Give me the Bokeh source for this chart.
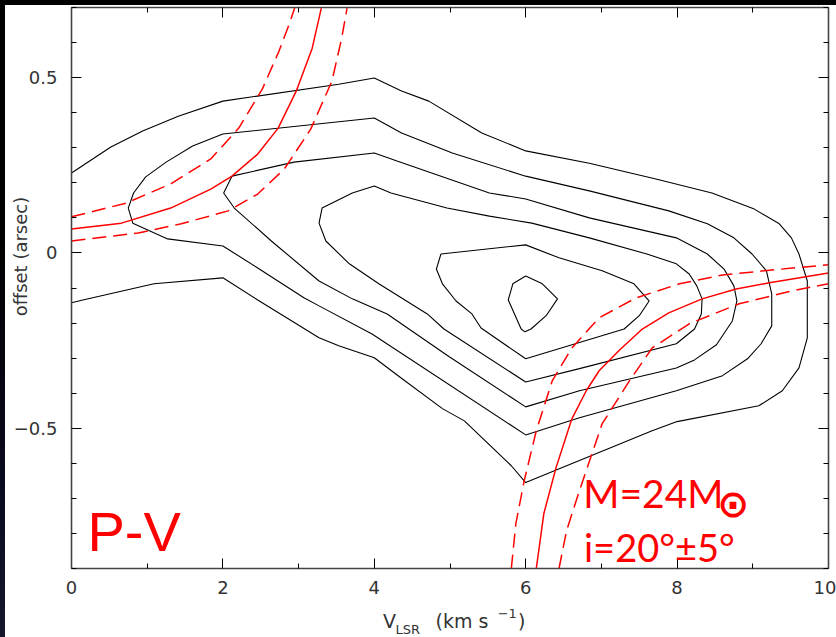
import math
from bokeh.plotting import figure
from bokeh.models import Range1d, LinearAxis, FixedTicker, Label
from bokeh.layouts import column
from bokeh.embed import file_html
from bokeh.resources import INLINE

# ---- axis ticks ----
x_major = [0, 2, 4, 6, 8, 10]
x_minor = [1, 3, 5, 7, 9]
y_major = [-0.5, 0, 0.5]
y_minor = [-0.9, -0.8, -0.7, -0.6, -0.4, -0.3, -0.2, -0.1, 0.1, 0.2, 0.3, 0.4, 0.6, 0.7]
y_labels = {-0.5: "\u22120.5", 0: "0", 0.5: "0.5"}

# ---- contour levels (velocity km/s, offset arcsec) ----
c1_v = [0, 0.52, 0.94, 1.41, 2.0, 3.53, 4.0, 4.36, 4.72, 5.42, 6.0, 6.84, 7.72, 8.46, 9.02, 9.35, 9.51, 9.61,
        9.72, 9.72, 9.61, 9.39, 9.08, 8.0, 7.67, 6.0, 5.81, 5.19, 4.90, 4.35, 4.0, 3.53, 3.27, 2.46, 2.0, 1.09, 0.15, 0]
c1_o = [0.228, 0.302, 0.348, 0.390, 0.433, 0.481, 0.499, 0.462, 0.433, 0.342, 0.291, 0.256, 0.211, 0.171, 0.125,
        0.083, 0.043, -0.003, -0.080, -0.242, -0.328, -0.393, -0.436, -0.481, -0.507, -0.655, -0.607, -0.479,
        -0.444, -0.356, -0.299, -0.265, -0.242, -0.134, -0.071, -0.088, -0.134, -0.142]

c2_v = [0.75, 0.82, 0.98, 1.25, 1.60, 2.0, 4.0, 4.36, 5.03, 6.0, 6.84, 7.89, 8.40, 8.75, 8.99, 9.18, 9.25, 9.25,
        9.11, 8.93, 8.60, 7.99, 6.71, 6.0, 3.97, 3.27, 3.07, 2.46, 2.0, 1.27, 0.81, 0.75]
c2_o = [0.128, 0.171, 0.217, 0.259, 0.305, 0.339, 0.385, 0.342, 0.285, 0.219, 0.177, 0.120, 0.083, 0.043, -0.003,
        -0.051, -0.117, -0.208, -0.259, -0.302, -0.350, -0.393, -0.470, -0.519, -0.231, -0.151, -0.128, -0.043,
        0.020, 0.040, 0.085, 0.128]

c3_v = [2.12, 2.94, 4.0, 4.30, 5.52, 6.0, 6.84, 7.99, 8.40, 8.62, 8.75, 8.79, 8.73, 8.52, 8.23, 7.99, 6.71, 6.0,
        4.99, 4.17, 3.71, 3.27, 2.64, 2.15, 2.01, 2.12]
c3_o = [0.219, 0.259, 0.285, 0.262, 0.171, 0.154, 0.100, 0.043, -0.003, -0.046, -0.094, -0.137, -0.194, -0.262,
        -0.305, -0.328, -0.393, -0.439, -0.296, -0.174, -0.131, -0.080, 0.034, 0.128, 0.171, 0.219]

c4_v = [3.71, 4.0, 4.22, 4.96, 5.52, 6.08, 6.84, 7.60, 7.99, 8.16, 8.26, 8.33, 8.32, 8.23, 7.99, 6.71, 6.0, 4.92,
        4.70, 4.06, 3.67, 3.36, 3.27, 3.31, 3.71]
c4_o = [0.171, 0.191, 0.171, 0.128, 0.105, 0.085, 0.043, -0.003, -0.031, -0.060, -0.094, -0.131, -0.174, -0.217,
        -0.259, -0.330, -0.368, -0.217, -0.174, -0.088, -0.031, 0.034, 0.085, 0.128, 0.171]

c5_v = [4.88, 6.0, 6.44, 7.01, 7.43, 7.63, 7.50, 7.30, 6.0, 5.41, 5.29, 5.08, 4.90, 4.82, 4.88]
c5_o = [-0.003, 0.023, -0.014, -0.051, -0.088, -0.137, -0.179, -0.217, -0.302, -0.214, -0.174, -0.137, -0.088,
        -0.046, -0.003]

c6_v = [6.0, 6.22, 6.42, 6.27, 6.07, 5.99, 5.94, 5.77, 5.83, 6.0]
c6_o = [-0.066, -0.088, -0.131, -0.179, -0.217, -0.225, -0.217, -0.134, -0.088, -0.066]

# ---- Keplerian curves ----
kA_v = [0, 0.66, 1.31, 1.84, 2.12, 2.46, 2.73, 2.97, 3.18, 3.30]
kA_o = [0.068, 0.085, 0.128, 0.182, 0.219, 0.282, 0.356, 0.462, 0.584, 0.698]
kA_hi_v = [0, 0.72, 1.31, 1.84, 2.21, 2.52, 2.74, 2.88, 2.95]
kA_hi_o = [0.103, 0.142, 0.197, 0.268, 0.356, 0.467, 0.575, 0.655, 0.700]
kA_lo_v = [0, 0.88, 1.45, 2.07, 2.46, 2.81, 3.16, 3.44, 3.57, 3.64]
kA_lo_o = [0.034, 0.057, 0.083, 0.120, 0.168, 0.239, 0.353, 0.490, 0.613, 0.698]

kB_v = [6.14, 6.24, 6.40, 6.61, 6.80, 6.97, 7.23, 7.54, 7.89, 8.33, 8.78, 9.22, 10.0]
kB_o = [-0.900, -0.743, -0.613, -0.473, -0.393, -0.336, -0.279, -0.217, -0.171, -0.131, -0.103, -0.085, -0.057]
kB_hi_v = [5.81, 5.87, 5.98, 6.14, 6.35, 6.61, 6.97, 7.46, 8.03, 8.60, 9.52, 10.0]
kB_hi_o = [-0.900, -0.772, -0.650, -0.507, -0.365, -0.271, -0.185, -0.128, -0.088, -0.063, -0.043, -0.034]
kB_lo_v = [6.44, 6.54, 6.71, 7.01, 7.37, 7.67, 8.16, 8.82, 9.52, 10.0]
kB_lo_o = [-0.900, -0.792, -0.678, -0.487, -0.365, -0.271, -0.202, -0.145, -0.108, -0.088]

contours = [(c1_v, c1_o), (c2_v, c2_o), (c3_v, c3_o), (c4_v, c4_o), (c5_v, c5_o), (c6_v, c6_o)]

STRIP = 5
MB_LEFT, MB_RIGHT = 72 - STRIP - 1, 8
FIG_W = 836 - STRIP
x_rng = Range1d(0, 10)

p = figure(width=FIG_W, height=597, output_backend="svg", toolbar_location=None,
           x_range=x_rng, y_range=Range1d(-0.9, 0.7),
           min_border_left=MB_LEFT, min_border_right=MB_RIGHT, min_border_top=2, min_border_bottom=34,
           background_fill_color="white", border_fill_color="white")
p.outline_line_color = None
p.xgrid.visible = False
p.ygrid.visible = False

TICK_FONT = "DejaVu Sans"
LAB = "#333333"

def style_axis(ax, ticker, show_labels):
    ax.ticker = ticker
    ax.axis_line_color = "#444444"
    ax.axis_line_width = 1.6
    ax.major_tick_line_color = "black"
    ax.minor_tick_line_color = "black"
    ax.major_tick_in = 10
    ax.major_tick_out = 0
    ax.minor_tick_in = 5
    ax.minor_tick_out = 0
    if show_labels:
        ax.major_label_text_font = TICK_FONT
        ax.major_label_text_font_size = "18px"
        ax.major_label_text_color = LAB
    else:
        ax.major_label_text_color = None
        ax.major_label_standoff = 0

xt = FixedTicker(ticks=x_major, minor_ticks=x_minor)
yt = FixedTicker(ticks=y_major, minor_ticks=y_minor)

style_axis(p.xaxis[0], xt, True)
p.xaxis[0].major_label_standoff = 12
style_axis(p.yaxis[0], yt, True)
p.yaxis[0].major_label_standoff = 14
p.yaxis[0].major_label_overrides = y_labels
p.yaxis[0].axis_label = "\u00a0" * 11 + "offset (arsec)"
p.yaxis[0].axis_label_text_font = TICK_FONT
p.yaxis[0].axis_label_text_font_size = "18px"
p.yaxis[0].axis_label_text_font_style = "normal"
p.yaxis[0].axis_label_text_color = LAB
p.yaxis[0].axis_label_standoff = -20

top = LinearAxis()
style_axis(top, FixedTicker(ticks=x_major, minor_ticks=x_minor), False)
p.add_layout(top, "above")
right = LinearAxis()
style_axis(right, FixedTicker(ticks=y_major, minor_ticks=y_minor), False)
p.add_layout(right, "right")

for cv, co in contours:
    p.line(cv, co, line_color="black", line_width=1.1)

p.line(kA_v, kA_o, line_color="#ff0000", line_width=1.5)
p.line(kB_v, kB_o, line_color="#ff0000", line_width=1.5)
for dv, do in [(kA_hi_v, kA_hi_o), (kA_lo_v, kA_lo_o), (kB_hi_v, kB_hi_o), (kB_lo_v, kB_lo_o)]:
    p.line(dv, do, line_color="#ff0000", line_width=1.5, line_dash="14 7")

# ---- texts inside the frame (data units, vertically centred) ----
RED = "#ff0000"
p.add_layout(Label(x=0.21, y=-0.794, text="P-V", text_font="Liberation Sans", text_font_size="56px",
                   text_color=RED, text_baseline="middle", text_align="left"))
p.add_layout(Label(x=6.76, y=-0.684, text="M=24M", text_font="Lato", text_font_size="39px",
                   text_color=RED, text_baseline="middle", text_align="left"))
p.add_layout(Label(x=8.74, y=-0.717, text="\u2299", text_font="DejaVu Sans", text_font_size="38px",
                   text_font_style="bold", text_color=RED, text_baseline="middle", text_align="center"))
p.add_layout(Label(x=6.77, y=-0.839, text="i=20\u00b0\u00b15\u00b0", text_font="Lato", text_font_size="38px",
                   text_color=RED, text_baseline="middle", text_align="left"))

# ---- x-axis title strip (a second, axis-less figure under the plot, sharing the x range) ----
q = figure(width=FIG_W, height=35, output_backend="svg", toolbar_location=None,
           x_range=x_rng, y_range=Range1d(0, 35),
           min_border_left=MB_LEFT, min_border_right=MB_RIGHT, min_border_top=0, min_border_bottom=0,
           x_axis_type=None, y_axis_type=None,
           background_fill_color="white", border_fill_color="white")
q.outline_line_color = None

def qlabel(x, y, text, size):
    q.add_layout(Label(x=x, y=y, text=text, text_font=TICK_FONT, text_font_size=size, text_color=LAB,
                       text_baseline="middle", text_align="left"))

qlabel(4.114, 17, "V", "19px")
qlabel(4.279, 8, "LSR", "13px")
qlabel(4.810, 17, "(km  s", "19px")
qlabel(5.630, 24.5, "\u22121", "13px")
qlabel(5.899, 17, ")", "19px")

inner = column(p, q, styles={"background-color": "white"})
inner.margin = (5, 0, 0, STRIP)
layout = column(inner, styles={"background": "linear-gradient(to bottom, #000000 0%, #000000 35%, #0a0a1e 75%, #16162e 100%)"})

open("out.html", "w").write(file_html(layout, INLINE))
